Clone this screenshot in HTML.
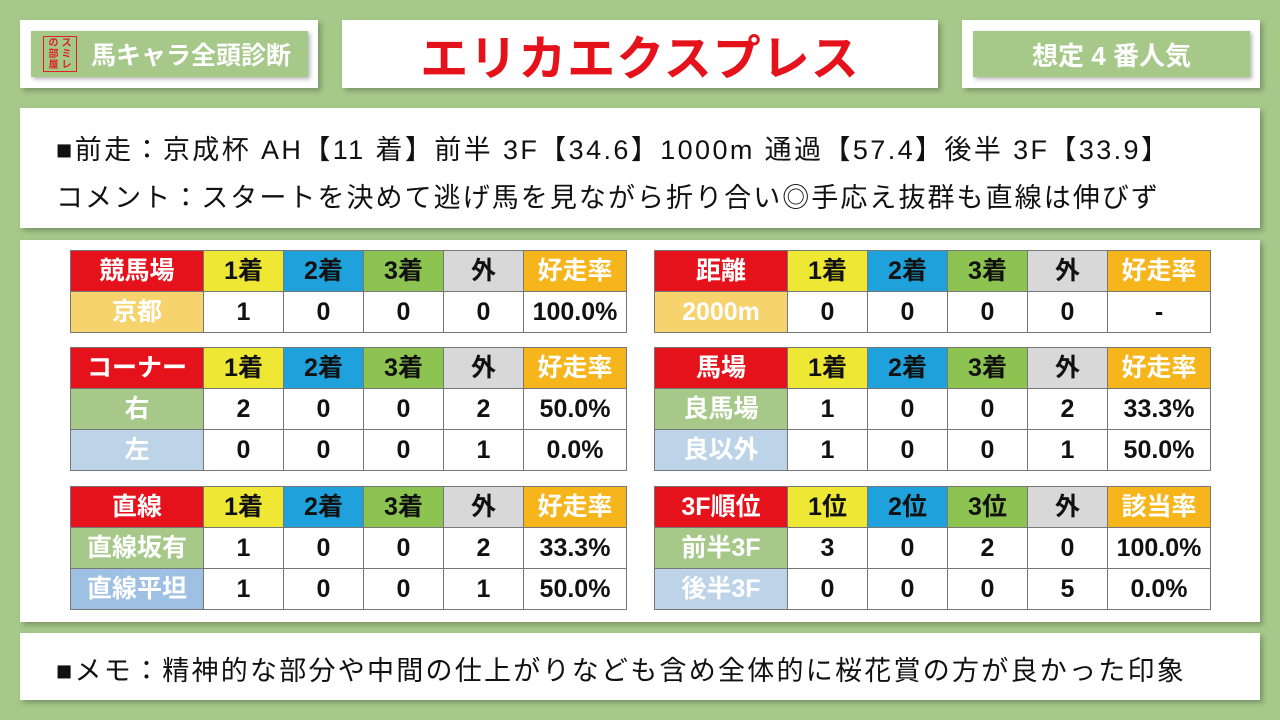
<!DOCTYPE html>
<html><head><meta charset="utf-8"><style>
*{margin:0;padding:0;box-sizing:border-box}
body{width:1280px;height:720px;background:#a6c98a;position:relative;overflow:hidden;font-family:"Liberation Sans","Noto Sans CJK JP",sans-serif}
.box{position:absolute;background:#fff;box-shadow:3px 3px 5px rgba(0,0,0,.25)}
.gb{position:absolute;background:#a6c98a;color:#fff;font-weight:bold;font-size:25px;display:flex;align-items:center;justify-content:center;box-shadow:2px 2px 4px rgba(0,0,0,.3)}
table{position:absolute;border-collapse:collapse;table-layout:fixed}
td{border:1px solid #777;text-align:center;font-size:25px;height:41px;padding:0;color:#111;line-height:1;font-weight:bold}
.r{background:#e5121c;color:#fff}
.y{background:#eee835}.b{background:#1fa2dc}.g{background:#8dc350}.s{background:#d8d8d8}.o{background:#f5b51b;color:#fff}
.lo{background:#f6d36c;color:#fff}
.lg{background:#a6c98a;color:#fff}
.lb{background:#bcd3e8;color:#fff}
.lb2{background:#9ec1e3;color:#fff}
.txt{position:absolute;left:56px;font-size:27px;color:#111;white-space:nowrap}
</style></head><body>
<div class="box" style="left:20px;top:20px;width:298px;height:68px"></div>
<div class="gb" style="left:31px;top:31px;width:277px;height:46px;justify-content:flex-start;padding-left:60px">馬キャラ全頭診断</div>
<div style="position:absolute;left:43px;top:36px;width:34px;height:36px;border:1.5px solid #d22;color:#d22;font-size:10px;line-height:11px;font-weight:bold;display:flex;justify-content:center;gap:3px;padding-top:1px">
<div style="width:10px">の<br>部<br>屋</div><div style="width:10px">ス<br>ミ<br>レ</div></div>
<div class="box" style="left:342px;top:20px;width:596px;height:68px;display:flex;align-items:center;justify-content:center;color:#e5121c;font-size:48px;font-weight:bold;letter-spacing:1px">エリカエクスプレス</div>
<div class="box" style="left:962px;top:20px;width:298px;height:68px"></div>
<div class="gb" style="left:973px;top:31px;width:277px;height:46px;font-size:26px">想定 4 番人気</div>
<div class="box" style="left:20px;top:108px;width:1240px;height:120px"></div>
<div class="txt" style="top:128px;letter-spacing:2.4px">■前走：京成杯 AH【11 着】前半 3F【34.6】1000m 通過【57.4】後半 3F【33.9】</div>
<div class="txt" style="top:176px;letter-spacing:2.05px">コメント：スタートを決めて逃げ馬を見ながら折り合い◎手応え抜群も直線は伸びず</div>
<div class="box" style="left:20px;top:240px;width:1240px;height:382px"></div>
<div class="box" style="left:20px;top:633px;width:1240px;height:67px"></div>
<div class="txt" style="top:649px;letter-spacing:2.25px">■メモ：精神的な部分や中間の仕上がりなども含め全体的に桜花賞の方が良かった印象</div>

<table style="left:70px;top:250px;width:556px"><colgroup><col style="width:133px"><col style="width:80px"><col style="width:80px"><col style="width:80px"><col style="width:80px"><col style="width:103px"></colgroup>
<tr><td class="r">競馬場</td><td class="y">1着</td><td class="b">2着</td><td class="g">3着</td><td class="s">外</td><td class="o">好走率</td></tr>
<tr><td class="lo">京都</td><td>1</td><td>0</td><td>0</td><td>0</td><td>100.0%</td></tr></table>

<table style="left:70px;top:347px;width:556px"><colgroup><col style="width:133px"><col style="width:80px"><col style="width:80px"><col style="width:80px"><col style="width:80px"><col style="width:103px"></colgroup>
<tr><td class="r">コーナー</td><td class="y">1着</td><td class="b">2着</td><td class="g">3着</td><td class="s">外</td><td class="o">好走率</td></tr>
<tr><td class="lg">右</td><td>2</td><td>0</td><td>0</td><td>2</td><td>50.0%</td></tr>
<tr><td class="lb">左</td><td>0</td><td>0</td><td>0</td><td>1</td><td>0.0%</td></tr></table>

<table style="left:70px;top:486px;width:556px"><colgroup><col style="width:133px"><col style="width:80px"><col style="width:80px"><col style="width:80px"><col style="width:80px"><col style="width:103px"></colgroup>
<tr><td class="r">直線</td><td class="y">1着</td><td class="b">2着</td><td class="g">3着</td><td class="s">外</td><td class="o">好走率</td></tr>
<tr><td class="lg">直線坂有</td><td>1</td><td>0</td><td>0</td><td>2</td><td>33.3%</td></tr>
<tr><td class="lb2">直線平坦</td><td>1</td><td>0</td><td>0</td><td>1</td><td>50.0%</td></tr></table>

<table style="left:654px;top:250px;width:556px"><colgroup><col style="width:133px"><col style="width:80px"><col style="width:80px"><col style="width:80px"><col style="width:80px"><col style="width:103px"></colgroup>
<tr><td class="r">距離</td><td class="y">1着</td><td class="b">2着</td><td class="g">3着</td><td class="s">外</td><td class="o">好走率</td></tr>
<tr><td class="lo">2000m</td><td>0</td><td>0</td><td>0</td><td>0</td><td>-</td></tr></table>

<table style="left:654px;top:347px;width:556px"><colgroup><col style="width:133px"><col style="width:80px"><col style="width:80px"><col style="width:80px"><col style="width:80px"><col style="width:103px"></colgroup>
<tr><td class="r">馬場</td><td class="y">1着</td><td class="b">2着</td><td class="g">3着</td><td class="s">外</td><td class="o">好走率</td></tr>
<tr><td class="lg">良馬場</td><td>1</td><td>0</td><td>0</td><td>2</td><td>33.3%</td></tr>
<tr><td class="lb">良以外</td><td>1</td><td>0</td><td>0</td><td>1</td><td>50.0%</td></tr></table>

<table style="left:654px;top:486px;width:556px"><colgroup><col style="width:133px"><col style="width:80px"><col style="width:80px"><col style="width:80px"><col style="width:80px"><col style="width:103px"></colgroup>
<tr><td class="r">3F順位</td><td class="y">1位</td><td class="b">2位</td><td class="g">3位</td><td class="s">外</td><td class="o">該当率</td></tr>
<tr><td class="lg">前半3F</td><td>3</td><td>0</td><td>2</td><td>0</td><td>100.0%</td></tr>
<tr><td class="lb">後半3F</td><td>0</td><td>0</td><td>0</td><td>5</td><td>0.0%</td></tr></table>
</body></html>
